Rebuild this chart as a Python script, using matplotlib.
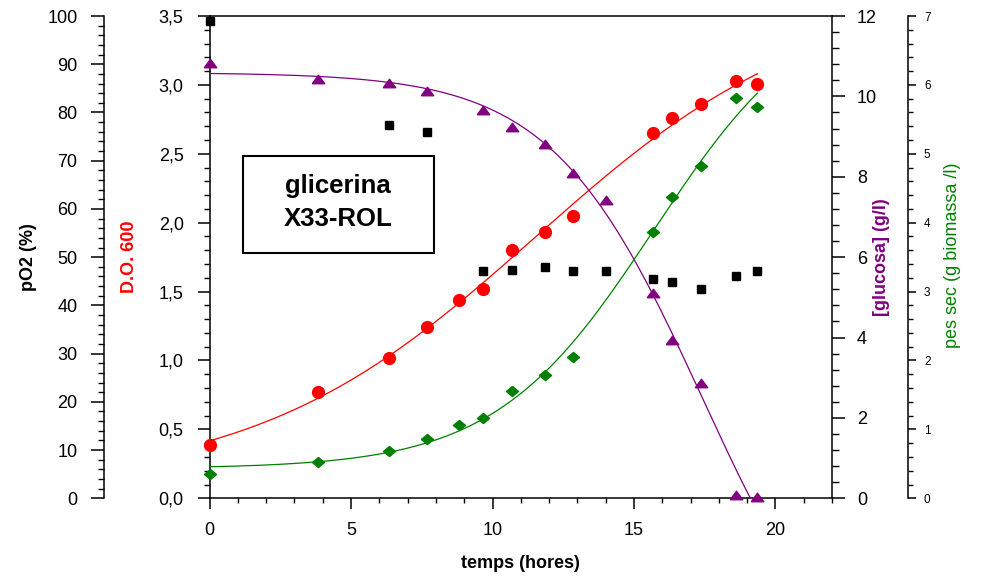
import numpy as np
import matplotlib
matplotlib.use("Agg")
import matplotlib.pyplot as plt
from matplotlib.ticker import MultipleLocator, FuncFormatter
from matplotlib.patches import Rectangle

plt.rcParams["font.family"] = ["Liberation Sans", "DejaVu Sans"]

# ---- data -------------------------------------------------------------
t_do = [0, 3.83, 6.35, 7.67, 8.83, 9.68, 10.68, 11.84, 12.84, 15.66, 16.35, 17.35, 18.62, 19.36]
do600 = [0.39, 0.77, 1.02, 1.245, 1.44, 1.52, 1.80, 1.93, 2.05, 2.65, 2.76, 2.86, 3.03, 3.01]

t_glu = [0, 3.83, 6.35, 7.67, 9.68, 10.68, 11.84, 12.84, 14.0, 15.66, 16.35, 17.35, 18.62, 19.36]
glucosa = [10.82, 10.43, 10.33, 10.13, 9.66, 9.23, 8.81, 8.10, 7.42, 5.12, 3.94, 2.87, 0.08, 0.03]

t_po2 = [0, 6.35, 7.67, 9.68, 10.68, 11.84, 12.84, 14.0, 15.66, 16.35, 17.35, 18.62, 19.36]
po2 = [99.0, 77.4, 75.9, 47.2, 47.3, 47.9, 47.2, 47.2, 45.4, 44.8, 43.5, 46.1, 47.2]

t_pes = [0, 3.83, 6.35, 7.67, 8.83, 9.68, 10.68, 11.84, 12.84, 15.66, 16.35, 17.35, 18.62, 19.36]
pes_sec = [0.35, 0.52, 0.68, 0.865, 1.06, 1.165, 1.56, 1.79, 2.05, 3.86, 4.37, 4.83, 5.81, 5.68]

RED = "#ff0000"
PURPLE = "#800080"
GREEN = "#008000"

DPI = 100
fig = plt.figure(figsize=(9.81, 5.78), dpi=DPI)
ax = fig.add_axes([0.2136, 0.1379, 0.6346, 0.8344])
ax_po2 = ax.twinx()
ax_glu = ax.twinx()
ax_pes = ax.twinx()

# flattened marker shapes
TRI = [(-1, -0.68), (1, -0.68), (0, 0.68), (-1, -0.68)]
DIAM = [(0, 0.84), (1, 0), (0, -0.84), (-1, 0), (0, 0.84)]


def sigmoid_fit(t, y):
    """Least-squares fit of y = c + a / (1 + exp(-(t - t0) / w)).

    t0 and w are scanned on a grid; c and a are solved exactly for each pair.
    """
    t = np.asarray(t, float)
    y = np.asarray(y, float)
    t0s = np.arange(-5, 45, 0.1)[:, None, None]
    ws = np.concatenate([-np.arange(0.3, 15, 0.05), np.arange(0.3, 15, 0.05)])[None, :, None]
    f = 1.0 / (1.0 + np.exp(np.clip(-(t[None, None, :] - t0s) / ws, -60, 60)))
    n = len(t)
    sf = f.sum(-1)
    sff = (f * f).sum(-1)
    sy = y.sum()
    sfy = (f * y).sum(-1)
    det = n * sff - sf * sf
    det = np.where(np.abs(det) < 1e-12, np.nan, det)
    a = (n * sfy - sf * sy) / det
    c = (sy - a * sf) / n
    resid = ((c[..., None] + a[..., None] * f - y) ** 2).sum(-1)
    i, j = np.unravel_index(np.nanargmin(resid), resid.shape)
    t0, w, aa, cc = t0s[i, 0, 0], ws[0, j, 0], a[i, j], c[i, j]
    tt = np.linspace(0, t.max(), 300)
    return tt, cc + aa / (1.0 + np.exp(-(tt - t0) / w))


# D.O. 600
tt, yy = sigmoid_fit(t_do, do600)
ax.plot(tt, yy, color=RED, lw=0.9)
ax.plot(t_do, do600, "o", color=RED, ms=8.5, mec=RED, clip_on=False, zorder=5)

# pO2
ax_po2.plot(t_po2, po2, "s", color="black", ms=5.4, clip_on=False, zorder=5)

# glucose
tt, yy = sigmoid_fit(t_glu, glucosa)
ax_glu.plot(tt, yy, color=PURPLE, lw=0.9)
ax_glu.plot(t_glu, glucosa, marker=TRI, ls="none", color=PURPLE, ms=9,
            clip_on=False, zorder=5)

# dry weight
tt, yy = sigmoid_fit(t_pes, pes_sec)
ax_pes.plot(tt, yy, color=GREEN, lw=0.9)
ax_pes.plot(t_pes, pes_sec, marker=DIAM, ls="none", color=GREEN, ms=8.7,
            clip_on=False, zorder=5)

# ---- axes -------------------------------------------------------------
ax.set_xlim(0, 22)
ax.set_ylim(0, 3.5)
ax_po2.set_ylim(0, 100)
ax_glu.set_ylim(0, 12)
ax_pes.set_ylim(0, 7)

TICK_FS = 13
comma = FuncFormatter(lambda v, p: f"{v:.1f}".replace(".", ","))

# main axes: x and D.O.
ax.spines["right"].set_visible(False)
for s in ax.spines.values():
    s.set_linewidth(1.1)
ax.xaxis.set_major_locator(MultipleLocator(5))
ax.xaxis.set_minor_locator(MultipleLocator(1))
ax.yaxis.set_major_locator(MultipleLocator(0.5))
ax.yaxis.set_minor_locator(MultipleLocator(0.1))
ax.yaxis.set_major_formatter(comma)
ax.tick_params(axis="x", which="major", direction="out", length=8, width=1.1,
               pad=9, labelsize=TICK_FS)
ax.tick_params(axis="x", which="minor", direction="out", length=3.6, width=1.0)
ax.tick_params(axis="y", which="major", direction="out", length=8.6, width=1.1,
               pad=10, labelsize=TICK_FS)
ax.tick_params(axis="y", which="minor", direction="out", length=4.3, width=1.0)

# pO2 axis on the far left
for side in ("right", "top", "bottom"):
    ax_po2.spines[side].set_visible(False)
ax_po2.spines["left"].set_visible(True)
ax_po2.spines["left"].set_position(("axes", -0.169))
ax_po2.spines["left"].set_linewidth(1.1)
ax_po2.yaxis.set_ticks_position("left")
ax_po2.yaxis.set_label_position("left")
ax_po2.yaxis.set_major_locator(MultipleLocator(10))
ax_po2.yaxis.set_minor_locator(MultipleLocator(2))
ax_po2.tick_params(axis="y", which="major", direction="out", length=9.4, width=1.1,
                   pad=10, labelsize=TICK_FS)
ax_po2.tick_params(axis="y", which="minor", direction="out", length=4.3, width=1.0)

# glucose axis on the right
for side in ("left", "top", "bottom"):
    ax_glu.spines[side].set_visible(False)
ax_glu.spines["right"].set_linewidth(1.1)
ax_glu.yaxis.set_major_locator(MultipleLocator(2))
ax_glu.yaxis.set_minor_locator(MultipleLocator(0.4))
ax_glu.tick_params(axis="y", which="major", direction="out", length=9.4, width=1.1,
                   pad=8.6, labelsize=TICK_FS)
ax_glu.tick_params(axis="y", which="minor", direction="out", length=5, width=1.0)

# dry weight axis on the far right
for side in ("left", "top", "bottom"):
    ax_pes.spines[side].set_visible(False)
ax_pes.spines["right"].set_position(("axes", 1.1226))
ax_pes.spines["right"].set_linewidth(1.1)
ax_pes.yaxis.set_major_locator(MultipleLocator(1))
ax_pes.yaxis.set_minor_locator(MultipleLocator(0.2))
ax_pes.tick_params(axis="y", which="major", direction="out", length=5.8, width=1.1,
                   pad=5.4, labelsize=8.5)
ax_pes.tick_params(axis="y", which="minor", direction="out", length=3.6, width=1.0)


def fx(px):
    return px / 981.0


def fy(py):
    return 1.0 - py / 578.0


# axis titles
fig.text(fx(28.5), fy(257), "pO2 (%)", rotation=90, ha="center", va="center",
         fontsize=13, fontweight="bold", color="black")
fig.text(fx(129.7), fy(257), "D.O. 600", rotation=90, ha="center", va="center",
         fontsize=13, fontweight="bold", color=RED)
fig.text(fx(882), fy(257), "[glucosa] (g/l)", rotation=90, ha="center", va="center",
         fontsize=13, fontweight="bold", color=PURPLE)
fig.text(fx(952.5), fy(255), "pes sec (g biomassa /l)", rotation=90, ha="center",
         va="center", fontsize=13, color=GREEN)
fig.text(fx(520), fy(563), "temps (hores)", ha="center", va="center",
         fontsize=13, fontweight="bold", color="black")

# label box
fig.patches.append(Rectangle((fx(242.7), fy(252.7)), fx(434) - fx(242.7),
                             fy(156) - fy(252.7), transform=fig.transFigure,
                             fill=True, facecolor="white", edgecolor="black",
                             lw=1.5, zorder=10))
fig.text(fx(338.3), fy(193.3), "glicerina", ha="center", va="baseline",
         fontsize=18.5, fontweight="bold", zorder=11)
fig.text(fx(338.3), fy(226), "X33-ROL", ha="center", va="baseline",
         fontsize=18.5, fontweight="bold", zorder=11)

fig.savefig("out.png", dpi=DPI)
